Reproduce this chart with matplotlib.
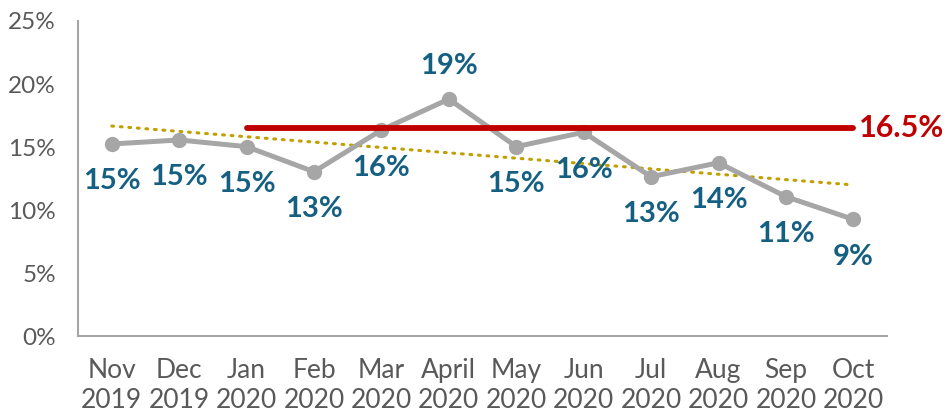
import matplotlib.pyplot as plt
import numpy as np

# monthly share (percent)
months = ["Nov\n2019", "Dec\n2019", "Jan\n2020", "Feb\n2020", "Mar\n2020", "April\n2020",
          "May\n2020", "Jun\n2020", "Jul\n2020", "Aug\n2020", "Sep\n2020", "Oct\n2020"]
values = [15.24, 15.56, 15.03, 13.04, 16.35, 18.8, 15.03, 16.17, 12.64, 13.75, 11.06, 9.26]
labels = ["15%", "15%", "15%", "13%", "16%", "19%", "15%", "16%", "13%", "14%", "11%", "9%"]
target = 16.5
target_start = 2  # Jan 2020

plt.rcParams['font.family'] = ['Lato', 'DejaVu Sans']

x = np.arange(len(months))
fig = plt.figure(figsize=(9.47, 4.18), dpi=100)
ax = fig.add_axes([0.0824, 0.196, 0.8543, 0.7538])

# linear trendline (like excel)
k, b = np.polyfit(x, values, 1)
ax.plot(x, k * x + b, color='#C0A000', lw=2.2, ls=(0, (0.6, 2.2)), dash_capstyle='round', zorder=1)

ax.plot(x, values, color='#A6A6A6', lw=3.6, marker='o', ms=10, zorder=2)

ax.plot([x[target_start], x[-1]], [target, target], color='#C00000', lw=4.2,
        solid_capstyle='round', zorder=3)
ax.annotate(f"{target}%", (x[-1], target), xytext=(4, 0), textcoords='offset points',
            color='#C00000', fontsize=22, fontweight='bold', va='center', ha='left')

for i, (v, lab) in enumerate(zip(values, labels)):
    dy = 24 if i == 5 else -27
    ax.annotate(lab, (x[i], v), xytext=(0, dy), textcoords='offset points',
                color='#156082', fontsize=21, fontweight='bold', ha='center', va='center')

ax.set_xlim(-0.5, len(months) - 0.5)
ax.set_ylim(0, 25)
ax.set_yticks(range(0, 26, 5))
ax.set_yticklabels([f"{t}%" for t in range(0, 26, 5)])
ax.set_xticks(x)
ax.set_xticklabels(months, linespacing=1.25)
ax.tick_params(axis='y', length=0, pad=16, labelsize=17.5, labelcolor='#595959')
ax.tick_params(axis='x', length=0, pad=16, labelsize=19, labelcolor='#595959')

for s in ['top', 'right']:
    ax.spines[s].set_visible(False)
for s in ['left', 'bottom']:
    ax.spines[s].set_color('#A6A6A6')
    ax.spines[s].set_linewidth(1.5)

fig.savefig('out.png', dpi=100)
